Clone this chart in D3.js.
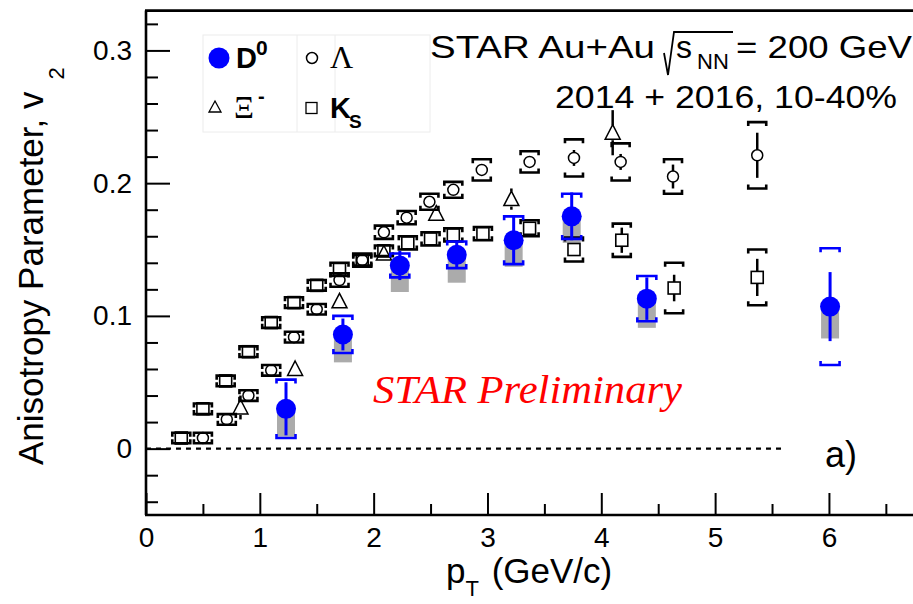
<!DOCTYPE html>
<html><head><meta charset="utf-8">
<script src="https://cdn.jsdelivr.net/npm/d3@7"></script>
<style>
body{margin:0;background:#fff}
svg{display:block}
</style>
</head><body>
<svg id="c" width="913" height="604" font-family="'Liberation Sans',Arial,Helvetica,sans-serif"></svg>
<script>
// ---- data ----
const d0X    = [1.23, 1.73, 2.23, 2.73, 3.23, 3.74, 4.40, 6.01];
const d0V    = [0.030, 0.086, 0.138, 0.146, 0.157, 0.175, 0.113, 0.107];
const d0Stat = [0.020, 0.012, 0.011, 0.010, 0.018, 0.018, 0.016, 0.026];
const d0Sys  = [0.022, 0.014, 0.009, 0.010, 0.018, 0.017, 0.017, 0.044];
const d0Nonflow = [0.021, 0.021, 0.020, 0.021, 0.020, 0.020, 0.022, 0.024];

const lamX    = [0.50, 0.71, 0.90, 1.10, 1.30, 1.50, 1.70, 1.90, 2.09, 2.29, 2.49, 2.70, 2.95, 3.37, 3.76, 4.17, 4.63, 5.37];
const lamV    = [0.008, 0.022, 0.040, 0.059, 0.084, 0.105, 0.127, 0.142, 0.163, 0.174, 0.186, 0.195, 0.210, 0.216, 0.219, 0.216, 0.205, 0.221];
const lamStat = [0.002, 0.002, 0.002, 0.002, 0.002, 0.002, 0.002, 0.002, 0.002, 0.002, 0.003, 0.003, 0.003, 0.004, 0.006, 0.006, 0.009, 0.017];
const lamSys  = [0.004, 0.004, 0.004, 0.004, 0.004, 0.004, 0.005, 0.005, 0.005, 0.005, 0.006, 0.006, 0.008, 0.008, 0.014, 0.014, 0.013, 0.025];

const ksX    = [0.31, 0.50, 0.70, 0.90, 1.10, 1.30, 1.50, 1.70, 1.90, 2.09, 2.30, 2.50, 2.70, 2.96, 3.37, 3.76, 4.18, 4.64, 5.37];
const ksV    = [0.008, 0.030, 0.051, 0.073, 0.095, 0.110, 0.123, 0.135, 0.142, 0.149, 0.155, 0.158, 0.161, 0.162, 0.166, 0.150, 0.157, 0.121, 0.129];
const ksStat = [0.002, 0.002, 0.002, 0.002, 0.002, 0.002, 0.002, 0.002, 0.002, 0.002, 0.002, 0.002, 0.002, 0.003, 0.003, 0.004, 0.0095, 0.010, 0.014];
const ksSys  = [0.004, 0.004, 0.004, 0.004, 0.004, 0.004, 0.004, 0.005, 0.004, 0.004, 0.005, 0.005, 0.005, 0.005, 0.006, 0.009, 0.0125, 0.019, 0.021];

const xiX    = [0.83, 1.31, 1.70, 2.09, 2.55, 3.21, 4.10];
const xiV    = [0.031, 0.060, 0.111, 0.147, 0.177, 0.188, 0.238];
const xiStat = [0.009, 0.004, 0.003, 0.003, 0.004, 0.008, 0.017];

const xMajor = [0, 1, 2, 3, 4, 5, 6];
const xMinor = [0.5, 1.5, 2.5, 3.5, 4.5, 5.5, 6.5];
const yMajor = [0, 0.1, 0.2, 0.3];
const yMinor = [-0.04, -0.02, 0.02, 0.04, 0.06, 0.08, 0.12, 0.14, 0.16, 0.18, 0.22, 0.24, 0.26, 0.28, 0.32];

// ---- scales ----
const SANS = "'Liberation Sans',Arial,Helvetica,sans-serif";
const SERIF = "'Liberation Serif','Times New Roman',serif";
const svg = d3.select("#c");
const x = d3.scaleLinear().domain([0, 6.8]).range([146, 920]);
const y = d3.scaleLinear().domain([-0.05, 0.33]).range([515, 10.6]);
const BLUE = "#0000ff";

svg.append("rect").attr("width", 913).attr("height", 604).attr("fill", "#fff");

// legend frame (faint)
const lg = svg.append("g").attr("stroke", "#ececec").attr("stroke-width", 1).attr("fill", "none");
lg.append("rect").attr("x", 203).attr("y", 35).attr("width", 227).attr("height", 97);
lg.append("line").attr("x1", 297).attr("x2", 297).attr("y1", 35).attr("y2", 132);
lg.append("line").attr("x1", 335).attr("x2", 335).attr("y1", 35).attr("y2", 132);

// axes
function styleAxis(g, fs) {
  g.select(".domain").remove();
  g.selectAll(".tick line").attr("stroke", "#000").attr("stroke-width", 2);
  g.selectAll(".tick text").attr("font-size", fs).attr("fill", "#000").attr("font-family", SANS);
}
const gyMaj = svg.append("g").attr("transform", `translate(${x(0)},0)`)
  .call(d3.axisLeft(y).tickValues(yMajor).tickFormat(d => d === 0 ? "0" : d3.format(".1f")(d))
    .tickSizeInner(-24).tickSizeOuter(0).tickPadding(14));
styleAxis(gyMaj, 28);
const gyMin = svg.append("g").attr("transform", `translate(${x(0)},0)`)
  .call(d3.axisLeft(y).tickValues(yMinor).tickFormat("").tickSizeInner(-12).tickSizeOuter(0));
styleAxis(gyMin, 28);
const gxMaj = svg.append("g").attr("transform", `translate(0,${y(-0.05)})`)
  .call(d3.axisBottom(x).tickValues(xMajor).tickFormat(d3.format("d"))
    .tickSizeInner(-22).tickSizeOuter(0).tickPadding(12));
styleAxis(gxMaj, 28);
const gxMin = svg.append("g").attr("transform", `translate(0,${y(-0.05)})`)
  .call(d3.axisBottom(x).tickValues(xMinor).tickFormat("").tickSizeInner(-11).tickSizeOuter(0));
styleAxis(gxMin, 28);

// frame
const fr = svg.append("g").attr("stroke", "#000").attr("stroke-width", 2.6).attr("fill", "none");
fr.append("line").attr("x1", x(0)).attr("x2", x(0)).attr("y1", y(0.33)).attr("y2", y(-0.05));
fr.append("line").attr("x1", x(0) - 1).attr("x2", 913).attr("y1", y(-0.05)).attr("y2", y(-0.05));
fr.append("line").attr("x1", x(0) - 1).attr("x2", 913).attr("y1", y(0.33)).attr("y2", y(0.33));

// zero line
svg.append("line").attr("x1", x(0)).attr("x2", x(5.6)).attr("y1", y(0)).attr("y2", y(0))
  .attr("stroke", "#000").attr("stroke-width", 2.4).attr("stroke-dasharray", "5,5");

// helpers
function bracket(g, cx, yy, dir, w, color, sw) {
  const t = 4 * dir;
  g.append("path")
    .attr("d", `M${cx - w / 2},${yy + t}L${cx - w / 2},${yy}L${cx + w / 2},${yy}L${cx + w / 2},${yy + t}`)
    .attr("fill", "none").attr("stroke", color).attr("stroke-width", sw);
}
function statLine(g, cx, v, e, gap, color, sw) {
  const cy = y(v), yt = y(v + e), yb = y(v - e);
  if (cy - gap > yt) g.append("line").attr("x1", cx).attr("x2", cx).attr("y1", yt).attr("y2", cy - gap)
    .attr("stroke", color).attr("stroke-width", sw);
  if (cy + gap < yb) g.append("line").attr("x1", cx).attr("x2", cx).attr("y1", cy + gap).attr("y2", yb)
    .attr("stroke", color).attr("stroke-width", sw);
}

// D0 non-flow gray boxes (back)
const gGray = svg.append("g");
d0X.forEach((px, i) => {
  gGray.append("rect").attr("x", x(px) - 9).attr("width", 18)
    .attr("y", y(d0V[i])).attr("height", y(d0V[i] - d0Nonflow[i]) - y(d0V[i]))
    .attr("fill", "#ababab");
});

// K0S
const gK = svg.append("g");
ksX.forEach((px, i) => {
  const cx = x(px);
  statLine(gK, cx, ksV[i], ksStat[i], 6, "#000", 2.5);
  bracket(gK, cx, y(ksV[i] + ksSys[i]), 1, 18, "#000", 2.6);
  bracket(gK, cx, y(ksV[i] - ksSys[i]), -1, 18, "#000", 2.6);
  gK.append("rect").attr("x", cx - 6).attr("y", y(ksV[i]) - 6).attr("width", 12).attr("height", 12)
    .attr("fill", "none").attr("stroke", "#000").attr("stroke-width", 1.6);
});

// Lambda
const gL = svg.append("g");
lamX.forEach((px, i) => {
  const cx = x(px);
  statLine(gL, cx, lamV[i], lamStat[i], 5.5, "#000", 2.5);
  bracket(gL, cx, y(lamV[i] + lamSys[i]), 1, 18, "#000", 2.6);
  bracket(gL, cx, y(lamV[i] - lamSys[i]), -1, 18, "#000", 2.6);
  gL.append("circle").attr("cx", cx).attr("cy", y(lamV[i])).attr("r", 5.5)
    .attr("fill", "none").attr("stroke", "#000").attr("stroke-width", 1.5);
});

// Xi
const gX = svg.append("g");
xiX.forEach((px, i) => {
  const cx = x(px), cy = y(xiV[i]);
  statLine(gX, cx, xiV[i], xiStat[i], 7.5, "#000", 2.5);
  gX.append("path").attr("d", `M${cx},${cy - 8}L${cx + 7.5},${cy + 6.5}L${cx - 7.5},${cy + 6.5}Z`)
    .attr("fill", "none").attr("stroke", "#000").attr("stroke-width", 1.5);
});

// D0
const gD = svg.append("g");
d0X.forEach((px, i) => {
  const cx = x(px);
  statLine(gD, cx, d0V[i], d0Stat[i], 0, BLUE, 3);
  bracket(gD, cx, y(d0V[i] + d0Sys[i]), 1, 19, BLUE, 2.6);
  bracket(gD, cx, y(d0V[i] - d0Sys[i]), -1, 19, BLUE, 2.6);
  gD.append("circle").attr("cx", cx).attr("cy", y(d0V[i])).attr("r", 10).attr("fill", BLUE);
});

// legend entries
svg.append("circle").attr("cx", 219).attr("cy", 58).attr("r", 10.5).attr("fill", BLUE);
svg.append("text").attr("x", 236).attr("y", 68).attr("font-size", 29).attr("font-weight", "bold").text("D");
svg.append("text").attr("x", 256).attr("y", 55).attr("font-size", 21).attr("font-weight", "bold").text("0");
svg.append("circle").attr("cx", 312).attr("cy", 58).attr("r", 5.5).attr("fill", "none").attr("stroke", "#000").attr("stroke-width", 1.5);
svg.append("text").attr("x", 330).attr("y", 68).attr("font-size", 32).attr("font-family", SERIF).text("Λ");
svg.append("path").attr("d", "M215,101L221,112L209,112Z").attr("fill", "none").attr("stroke", "#000").attr("stroke-width", 1.3);
svg.append("text").attr("x", 234).attr("y", 118).attr("font-size", 31).attr("font-family", SERIF).text("Ξ");
svg.append("text").attr("x", 258).attr("y", 103).attr("font-size", 20).attr("font-weight", "bold").text("-");
svg.append("rect").attr("x", 306).attr("y", 102.5).attr("width", 11).attr("height", 11).attr("fill", "none").attr("stroke", "#000").attr("stroke-width", 1.3);
svg.append("text").attr("x", 330).attr("y", 118).attr("font-size", 29).attr("font-weight", "bold").text("K");
svg.append("text").attr("x", 349).attr("y", 128).attr("font-size", 19).attr("font-weight", "bold").text("S");

// header text
svg.append("text").attr("x", 430).attr("y", 58).attr("font-size", 32)
  .attr("textLength", 225).attr("lengthAdjust", "spacingAndGlyphs").text("STAR Au+Au");
svg.append("path").attr("d", "M664,53L668,75L674,32L733,32").attr("fill", "none").attr("stroke", "#000").attr("stroke-width", 1.8);
svg.append("text").attr("x", 676).attr("y", 58).attr("font-size", 32).text("s");
svg.append("text").attr("x", 697).attr("y", 69).attr("font-size", 22).text("NN");
svg.append("text").attr("x", 912).attr("y", 58).attr("font-size", 32).attr("text-anchor", "end")
  .attr("textLength", 176).attr("lengthAdjust", "spacingAndGlyphs").text("= 200 GeV");
svg.append("text").attr("x", 555).attr("y", 108).attr("font-size", 32)
  .attr("textLength", 342).attr("lengthAdjust", "spacingAndGlyphs").text("2014 + 2016, 10-40%");

// STAR Preliminary
svg.append("text").attr("x", 373).attr("y", 403).attr("font-size", 40).attr("fill", "#ff0000")
  .attr("font-style", "italic").attr("font-family", SERIF)
  .attr("textLength", 309).attr("lengthAdjust", "spacingAndGlyphs").text("STAR Preliminary");

// a)
svg.append("text").attr("x", 825).attr("y", 467).attr("font-size", 36).text("a)");

// axis titles
const xt = svg.append("text").attr("x", 446).attr("y", 583).attr("font-size", 35);
xt.append("tspan").text("p");
xt.append("tspan").attr("dy", 13).attr("font-size", 22).text("T");
xt.append("tspan").attr("dy", -13).attr("dx", 3).text(" (GeV/c)");

const yt = svg.append("text").attr("transform", "translate(43,465) rotate(-90)").attr("font-size", 35);
yt.append("tspan").text("Anisotropy Parameter, v");
yt.append("tspan").attr("dx", 12).attr("dy", 21).attr("font-size", 22).text("2");
</script>
</body></html>
